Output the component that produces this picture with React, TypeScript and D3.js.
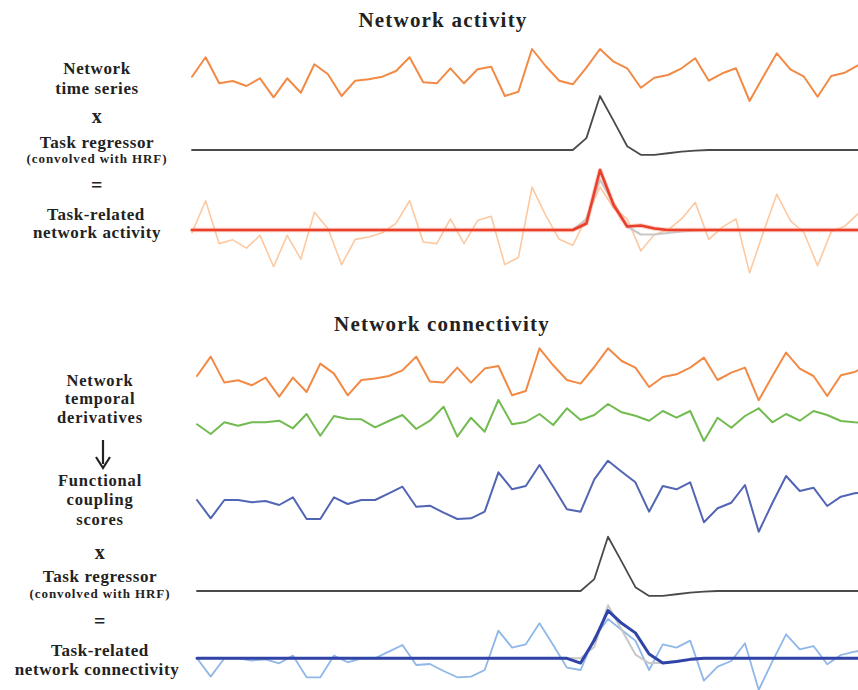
import React from "react";
import * as d3 from "d3";

// Network time series (arbitrary units)
const networkSeries = [2.33, 4.27, 1.67, 1.9, 1.4, 2.17, 0.27, 2.17, 0.73, 3.57, 2.57, 0.4, 1.93, 2.07, 2.33, 2.9, 4.27, 1.77, 1.67, 3.17, 1.67, 3.07, 3.33, 0.4, 0.83, 5.1, 3.4, 1.93, 1.57, 3.23, 5.1, 3.83, 3.17, 1.23, 2.23, 2.5, 3.17, 4.17, 1.93, 2.67, 3.17, -0.1, 2.33, 4.67, 3.07, 2.33, 0.33, 2.4, 2.73, 3.5];
// Task regressor convolved with HRF
const taskRegressor = [0, 0, 0, 0, 0, 0, 0, 0, 0, 0, 0, 0, 0, 0, 0, 0, 0, 0, 0, 0, 0, 0, 0, 0, 0, 0, 0, 0, 0, 0.22, 1, 0.54, 0.07, -0.09, -0.09, -0.06, -0.03, -0.01, 0, 0, 0, 0, 0, 0, 0, 0, 0, 0, 0, 0];
// Task-related network activity
const taskActivity = [0, 0, 0, 0, 0, 0, 0, 0, 0, 0, 0, 0, 0, 0, 0, 0, 0, 0, 0, 0, 0, 0, 0, 0, 0, 0, 0, 0, 0, 0.13, 1.2, 0.5, 0.07, 0.09, 0.03, 0, 0, 0, 0, 0, 0, 0, 0, 0, 0, 0, 0, 0, 0, 0];
// Second network temporal derivative
const secondSeries = [-0.23, -1.2, -0.03, -0.37, -0.03, -0.03, 0.13, -0.63, 0.8, -1.37, 0.6, 0.3, 0.27, -0.53, 0.1, 0.7, -0.7, 0.13, 1.53, -1.47, 0.43, -0.97, 2.2, -0.23, 0, 0.8, -0.3, 1.37, 0.2, 0.7, 1.8, 0.97, 0.63, 0.13, 1.1, 0.43, 1.1, -1.9, 0.43, -0.57, 0.6, 1.37, -0.03, 0.8, 0.13, 1.1, 0.7, 0.1, -0.03, -0.1];
// Functional coupling scores
const couplingScores = [0, -1.83, 0, 0, -0.23, -0.1, -0.5, 0.27, -1.9, -1.9, 0.27, -0.4, 0, 0, 0.67, 1.33, -0.67, -0.57, -1.27, -1.9, -1.83, -1.17, 2.77, 1.07, 1.4, 3.5, 1.33, -0.93, -1.17, 2.07, 3.93, 2.83, 1.77, -1.17, 1.4, 1.07, 1.77, -2.23, -0.83, -0.27, 1.5, -3.17, -0.3, 2.4, 0.9, 1.23, -0.6, 0.33, 0.67, 0.8];
// Task-related network connectivity
const taskConnectivity = [0, 0, 0, 0, 0, 0, 0, 0, 0, 0, 0, 0, 0, 0, 0, 0, 0, 0, 0, 0, 0, 0, 0, 0, 0, 0, 0, 0, -0.09, 0.34, 0.9, 0.66, 0.48, 0.08, -0.09, -0.06, -0.02, 0, 0, 0, 0, 0, 0, 0, 0, 0, 0, 0, 0, 0];

const titles = ["Network activity", "Network connectivity"];

const W = 858;
const H = 690;
const N = networkSeries.length;

const xTop = d3.scaleLinear().domain([0, N - 1]).range([192, 192 + 13.6 * (N - 1)]);
const xBot = d3.scaleLinear().domain([0, N - 1]).range([197, 197 + 13.7 * (N - 1)]);

const yTopSeries = d3.scaleLinear().domain([0, 5]).range([100, 50]);
const yTopReg = d3.scaleLinear().domain([0, 1]).range([150, 96]);
const yTopLight = d3.scaleLinear().domain([0, 5]).range([271.2, 188.7]);
const yTopProd = d3.scaleLinear().domain([0, 1]).range([230, 180]);

const yBotSeries = d3.scaleLinear().domain([0, 5]).range([399.3, 349.3]);
const yGreen = d3.scaleLinear().domain([0, 1]).range([422, 412]);
const yBlue = d3.scaleLinear().domain([0, 1]).range([500, 490]);
const yBotReg = d3.scaleLinear().domain([0, 1]).range([591, 536.7]);
const yLightBlue = d3.scaleLinear().domain([0, 1]).range([658.3, 648.3]);
const yBotProd = d3.scaleLinear().domain([0, 1]).range([658.3, 605.3]);

function path(data: number[], x: d3.ScaleLinear<number, number>, y: d3.ScaleLinear<number, number>) {
  const gen = d3
    .line<number>()
    .x((_, i) => x(i))
    .y((d) => y(d));
  return gen(data) || "";
}

const ORANGE = "#f28a45";
const LIGHT_ORANGE = "#fcc9a1";
const RED = "#e8402a";
const REG = "#4a4a4a";
const GREEN = "#71bb50";
const BLUE = "#5265b5";
const LIGHT_BLUE = "#8fb7e8";
const DARK_BLUE = "#3043a6";
const GREY = "#c8c8c8";

const FONT = "'Liberation Serif', 'Times New Roman', serif";

function Label({ x, y, text, size = 17, ls = 0.6 }: { x: number; y: number; text: string; size?: number; ls?: number }) {
  return (
    <text x={x} y={y} textAnchor="middle" fontFamily={FONT} fontWeight="bold" fontSize={size} letterSpacing={ls} fill="#222">
      {text}
    </text>
  );
}

export default function App() {
  return (
    <svg width={W} height={H} viewBox={`0 0 ${W} ${H}`} style={{ position: "absolute", left: 0, top: 0, background: "#fff" }}>
      <defs>
        <clipPath id="clip">
          <rect x={0} y={0} width={W} height={H} />
        </clipPath>
      </defs>
      <text x={443} y={27} textAnchor="middle" fontFamily={FONT} fontWeight="bold" fontSize={21} letterSpacing={1.2} fill="#222">
        {titles[0]}
      </text>
      <text x={442} y={331} textAnchor="middle" fontFamily={FONT} fontWeight="bold" fontSize={21} letterSpacing={1.2} fill="#222">
        {titles[1]}
      </text>

      {/* top labels */}
      <Label x={97} y={74} text="Network" />
      <Label x={97} y={94} text="time series" />
      <Label x={97} y={123} text="x" size={20} />
      <Label x={97} y={148} text="Task regressor" />
      <Label x={97} y={163} text="(convolved with HRF)" size={13} ls={0.9} />
      <Label x={97} y={192} text="=" size={20} />
      <Label x={96} y={220} text="Task-related" />
      <Label x={97} y={238} text="network activity" />

      {/* bottom labels */}
      <Label x={100} y={386} text="Network" size={16.5} ls={0.8} />
      <Label x={100} y={404} text="temporal" size={16.5} ls={0.8} />
      <Label x={100} y={423} text="derivatives" size={16.5} ls={0.8} />
      <line x1={103} y1={440} x2={103} y2={464} stroke="#222" strokeWidth={2.2} />
      <path d="M96,457 L103,468 L110,457" fill="none" stroke="#222" strokeWidth={2.2} />
      <Label x={100} y={486} text="Functional" size={16.5} ls={0.8} />
      <Label x={100} y={505} text="coupling" size={16.5} ls={0.8} />
      <Label x={100} y={525} text="scores" size={16.5} ls={0.8} />
      <Label x={100} y={559} text="x" size={20} />
      <Label x={100} y={582} text="Task regressor" />
      <Label x={100} y={598} text="(convolved with HRF)" size={13} ls={0.9} />
      <Label x={100} y={628} text="=" size={20} />
      <Label x={100} y={656} text="Task-related" />
      <Label x={97} y={675} text="network connectivity" />

      <g clipPath="url(#clip)" fill="none" strokeLinejoin="round" strokeLinecap="round">
        {/* top panel */}
        <path d={path(networkSeries, xTop, yTopSeries)} stroke={ORANGE} strokeWidth={2} />
        <path d={path(taskRegressor, xTop, yTopReg)} stroke={REG} strokeWidth={1.8} />
        <path d={path(networkSeries, xTop, yTopLight)} stroke={LIGHT_ORANGE} strokeWidth={1.6} />
        <path d={path(taskRegressor, xTop, yTopProd)} stroke={GREY} strokeWidth={2.2} />
        <path d={path(taskActivity, xTop, yTopProd)} stroke="#f7a08f" strokeWidth={4.5} opacity={0.5} />
        <path d={path(taskActivity, xTop, yTopProd)} stroke={RED} strokeWidth={2.6} />

        {/* bottom panel */}
        <path d={path(networkSeries, xBot, yBotSeries)} stroke={ORANGE} strokeWidth={2} />
        <path d={path(secondSeries, xBot, yGreen)} stroke={GREEN} strokeWidth={2} />
        <path d={path(couplingScores, xBot, yBlue)} stroke={BLUE} strokeWidth={2} />
        <path d={path(taskRegressor, xBot, yBotReg)} stroke={REG} strokeWidth={1.8} />
        <path d={path(couplingScores, xBot, yLightBlue)} stroke={LIGHT_BLUE} strokeWidth={1.8} />
        <path d={path(taskRegressor, xBot, yBotProd)} stroke={GREY} strokeWidth={2} />
        <path d={path(taskConnectivity, xBot, yBotProd)} stroke={DARK_BLUE} strokeWidth={3} />
      </g>
    </svg>
  );
}
